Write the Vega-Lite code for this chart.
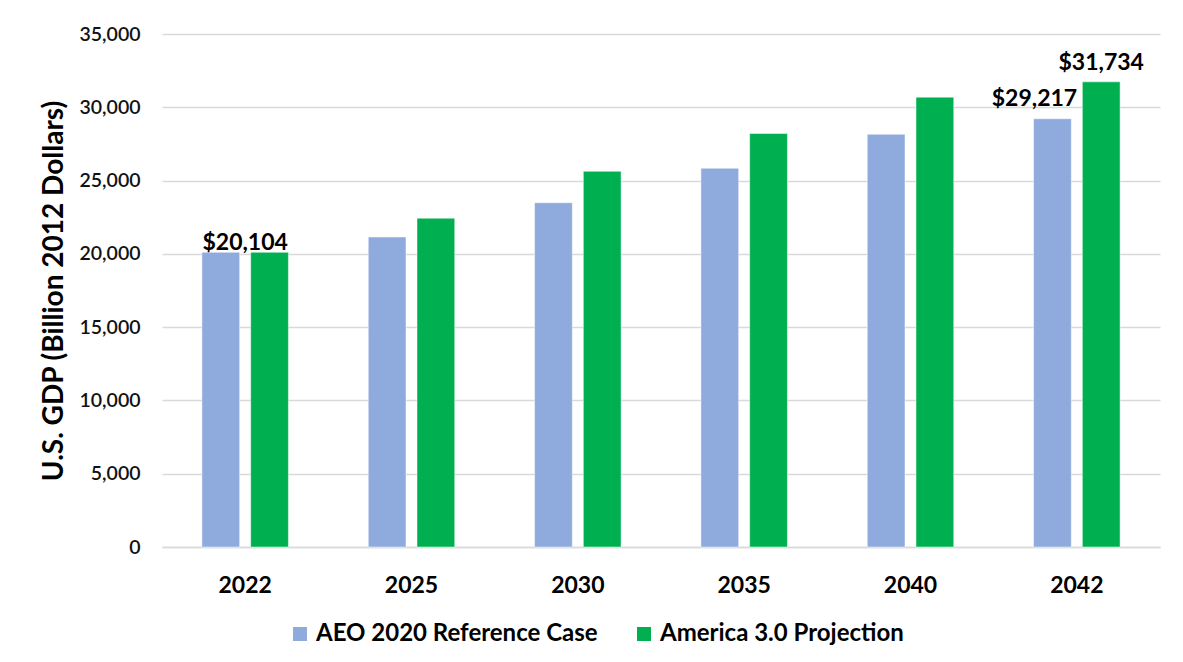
{
  "$schema": "https://vega.github.io/schema/vega-lite/v6.json",
  "width": 998,
  "height": 513,
  "autosize": {"type": "none"},
  "padding": {"left": 162, "top": 34, "right": 23, "bottom": 115},
  "background": "white",
  "config": {
    "view": {"stroke": null},
    "font": "Lato",
    "text": {"font": "Lato"}
  },
  "data": {
    "values": [
      {"year": "2022", "series": "AEO 2020 Reference Case", "gdp": 20104, "label": "$20,104"},
      {"year": "2022", "series": "America 3.0 Projection", "gdp": 20104, "label": "$20,104"},
      {"year": "2025", "series": "AEO 2020 Reference Case", "gdp": 21150, "label": "$21,150"},
      {"year": "2025", "series": "America 3.0 Projection", "gdp": 22430, "label": "$22,430"},
      {"year": "2030", "series": "AEO 2020 Reference Case", "gdp": 23490, "label": "$23,490"},
      {"year": "2030", "series": "America 3.0 Projection", "gdp": 25630, "label": "$25,630"},
      {"year": "2035", "series": "AEO 2020 Reference Case", "gdp": 25840, "label": "$25,840"},
      {"year": "2035", "series": "America 3.0 Projection", "gdp": 28210, "label": "$28,210"},
      {"year": "2040", "series": "AEO 2020 Reference Case", "gdp": 28160, "label": "$28,160"},
      {"year": "2040", "series": "America 3.0 Projection", "gdp": 30690, "label": "$30,690"},
      {"year": "2042", "series": "AEO 2020 Reference Case", "gdp": 29217, "label": "$29,217"},
      {"year": "2042", "series": "America 3.0 Projection", "gdp": 31734, "label": "$31,734"}
    ]
  },
  "encoding": {
    "x": {
      "field": "year",
      "type": "nominal",
      "scale": {"paddingInner": 0.48, "paddingOuter": 0.24},
      "axis": {
        "title": null,
        "labelAngle": 0,
        "labelFont": "Lato",
        "labelFontSize": 23,
        "labelFontWeight": "bold",
        "labelColor": "#000000",
        "labelBaseline": "top",
        "labelPadding": 27,
        "ticks": false,
        "grid": false,
        "domainColor": "#d9d9d9",
        "domainWidth": 1.5
      }
    },
    "y": {
      "field": "gdp",
      "type": "quantitative",
      "scale": {"domain": [0, 35000], "nice": false},
      "axis": {
        "values": [0, 5000, 10000, 15000, 20000, 25000, 30000, 35000],
        "format": ",.0f",
        "title": "U.S. GDP (Billion 2012 Dollars)",
        "titleFont": "Lato",
        "titleFontSize": 28,
        "titleFontWeight": "bold",
        "titleColor": "#000000",
        "titleAngle": 270,
        "titleX": -108,
        "titleY": 256.5,
        "titleAlign": "center",
        "titleBaseline": "middle",
        "labelFont": "Lato",
        "labelFontSize": 19.5,
        "labelFontWeight": 600,
        "labelColor": "#111111",
        "labelPadding": 22,
        "ticks": false,
        "domain": false,
        "grid": true,
        "gridColor": "#d9d9d9",
        "gridWidth": 1.5
      }
    }
  },
  "layer": [
    {
      "mark": {"type": "bar", "stroke": "#ffffff", "strokeWidth": 0.8, "strokeOpacity": 0.6},
      "encoding": {
        "xOffset": {
          "field": "series",
          "type": "nominal",
          "scale": {"paddingInner": 0.226, "paddingOuter": 0}
        },
        "color": {
          "field": "series",
          "type": "nominal",
          "scale": {
            "domain": ["AEO 2020 Reference Case", "America 3.0 Projection"],
            "range": ["#8faadc", "#00b050"]
          },
          "legend": {
            "title": null,
            "orient": "none",
            "direction": "horizontal",
            "legendX": 126,
            "legendY": 588,
            "symbolType": "square",
            "symbolSize": 196,
            "symbolStrokeWidth": 0,
            "labelFont": "Lato",
            "labelFontSize": 24,
            "labelFontWeight": "bold",
            "labelColor": "#000000",
            "labelOffset": 4,
            "columnPadding": 34,
            "labelLimit": 400
          }
        }
      }
    },
    {
      "transform": [{"filter": "datum.year === '2022' && datum.series === 'AEO 2020 Reference Case'"}],
      "mark": {"type": "text", "fontSize": 23, "fontWeight": "bold", "color": "#000000", "baseline": "alphabetic", "dy": -2},
      "encoding": {"text": {"field": "label"}}
    },
    {
      "transform": [{"filter": "datum.year === '2042' && datum.series === 'AEO 2020 Reference Case'"}],
      "mark": {"type": "text", "fontSize": 23, "fontWeight": "bold", "color": "#000000", "baseline": "alphabetic", "dx": -18, "dy": -13},
      "encoding": {
        "xOffset": {"field": "series", "type": "nominal"},
        "text": {"field": "label"}
      }
    },
    {
      "transform": [{"filter": "datum.year === '2042' && datum.series === 'America 3.0 Projection'"}],
      "mark": {"type": "text", "fontSize": 23, "fontWeight": "bold", "color": "#000000", "baseline": "alphabetic", "dy": -12},
      "encoding": {
        "xOffset": {"field": "series", "type": "nominal"},
        "text": {"field": "label"}
      }
    }
  ]
}
